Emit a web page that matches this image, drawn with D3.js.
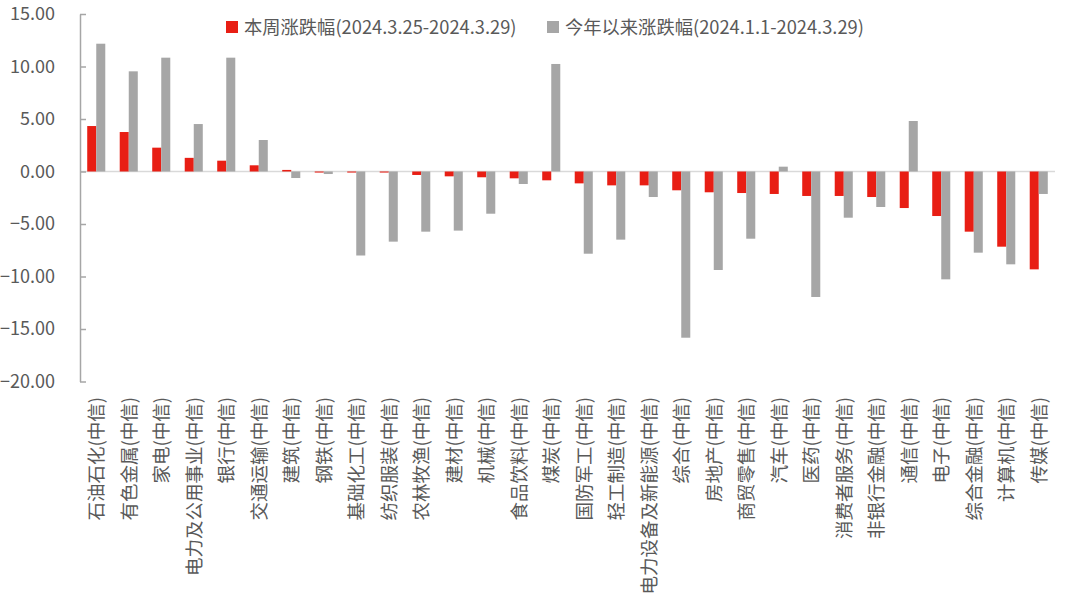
<!DOCTYPE html>
<html>
<head>
<meta charset="utf-8">
<script src="https://cdn.jsdelivr.net/npm/d3@7"></script>
<style>
  body { margin: 0; background: #fff; }
  svg { display: block; font-family: "Noto Sans CJK SC", "Noto Sans", sans-serif; }
</style>
</head>
<body>
<svg id="chart" width="1080" height="597"></svg>
<script>
// industries (CITIC level-1)
var categories = [
    "石油石化(中信)", "有色金属(中信)", "家电(中信)", "电力及公用事业(中信)", "银行(中信)",
    "交通运输(中信)", "建筑(中信)", "钢铁(中信)", "基础化工(中信)", "纺织服装(中信)",
    "农林牧渔(中信)", "建材(中信)", "机械(中信)", "食品饮料(中信)", "煤炭(中信)",
    "国防军工(中信)", "轻工制造(中信)", "电力设备及新能源(中信)", "综合(中信)", "房地产(中信)",
    "商贸零售(中信)", "汽车(中信)", "医药(中信)", "消费者服务(中信)", "非银行金融(中信)",
    "通信(中信)", "电子(中信)", "综合金融(中信)", "计算机(中信)", "传媒(中信)"
];
var weekChange = [
    4.33, 3.76, 2.27, 1.30, 1.03,
    0.59, 0.15, -0.10, -0.10, -0.10,
    -0.33, -0.46, -0.55, -0.65, -0.84,
    -1.13, -1.32, -1.32, -1.79, -1.98,
    -2.05, -2.14, -2.33, -2.33, -2.43,
    -3.48, -4.24, -5.73, -7.16, -9.32
];
var ytdChange = [
    12.17, 9.54, 10.84, 4.52, 10.84,
    3.00, -0.62, -0.24, -8.00, -6.68,
    -5.73, -5.63, -4.02, -1.19, 10.24,
    -7.83, -6.49, -2.43, -15.83, -9.38,
    -6.40, 0.46, -11.95, -4.40, -3.38,
    4.81, -10.27, -7.73, -8.84, -2.14
];
var seriesNames = ["本周涨跌幅(2024.3.25-2024.3.29)", "今年以来涨跌幅(2024.1.1-2024.3.29)"];
var seriesColors = ["#E81E14", "#A6A6A6"];
var yTicks = [-20, -15, -10, -5, 0, 5, 10, 15];

var svg = d3.select("#chart");
var plotLeft = 80, plotRight = 1055, plotTop = 14, plotBottom = 381.5;

var x0 = d3.scaleBand().domain(categories).range([plotLeft, plotRight]);
var x1 = d3.scaleBand().domain([0, 1]).range([0, x0.bandwidth()]).paddingOuter(0.8);
var y = d3.scaleLinear().domain([-20, 15]).range([plotBottom, plotTop]);

// zero line
svg.append("line")
    .attr("x1", plotLeft).attr("x2", plotRight)
    .attr("y1", y(0)).attr("y2", y(0))
    .attr("stroke", "#D9D9D9").attr("stroke-width", 1.5);

var rows = categories.map(function(c, i) { return {cat: c, vals: [weekChange[i], ytdChange[i]]}; });

var groups = svg.append("g").selectAll("g").data(rows).enter()
    .append("g")
    .attr("transform", function(d) { return "translate(" + x0(d.cat) + ",0)"; });

groups.selectAll("rect")
    .data(function(d) { return d.vals.map(function(v, k) { return {k: k, v: v}; }); })
    .enter().append("rect")
    .attr("x", function(d) { return x1(d.k); })
    .attr("width", x1.bandwidth())
    .attr("y", function(d) { return y(Math.max(0, d.v)); })
    .attr("height", function(d) { return Math.abs(y(d.v) - y(0)); })
    .attr("fill", function(d) { return seriesColors[d.k]; });

// y axis
var yAxis = d3.axisLeft(y)
    .tickValues(yTicks)
    .tickFormat(d3.format(".2f"))
    .tickSizeInner(-6)
    .tickSizeOuter(0)
    .tickPadding(25);

var ya = svg.append("g").attr("transform", "translate(" + plotLeft + ",0)").call(yAxis);
ya.select(".domain").attr("stroke", "#A6A6A6").attr("stroke-width", 1.5);
ya.selectAll(".tick line").attr("stroke", "#A6A6A6").attr("stroke-width", 1.5);
ya.selectAll(".tick text")
    .attr("fill", "#595959")
    .style("font-size", "18px")
    .style("font-family", "'Noto Sans CJK SC', 'Noto Sans', sans-serif");

// category labels, rotated
svg.append("g").selectAll("text").data(categories).enter()
    .append("text")
    .attr("transform", function(d) {
        return "translate(" + (x0(d) + x0.bandwidth() / 2 + 7) + ",397) rotate(-90)";
    })
    .attr("text-anchor", "end")
    .attr("fill", "#595959")
    .style("font-size", "18.5px")
    .text(function(d) { return d; });

// legend
var legendX = [226, 547];
var legend = svg.append("g").selectAll("g").data(seriesNames).enter()
    .append("g")
    .attr("transform", function(d, i) { return "translate(" + legendX[i] + ",21)"; });
legend.append("rect")
    .attr("width", 12).attr("height", 12)
    .attr("fill", function(d, i) { return seriesColors[i]; });
legend.append("text")
    .attr("x", 18).attr("y", 12.5)
    .attr("fill", "#595959")
    .style("font-size", "18.3px")
    .text(function(d) { return d; });
</script>
</body>
</html>
